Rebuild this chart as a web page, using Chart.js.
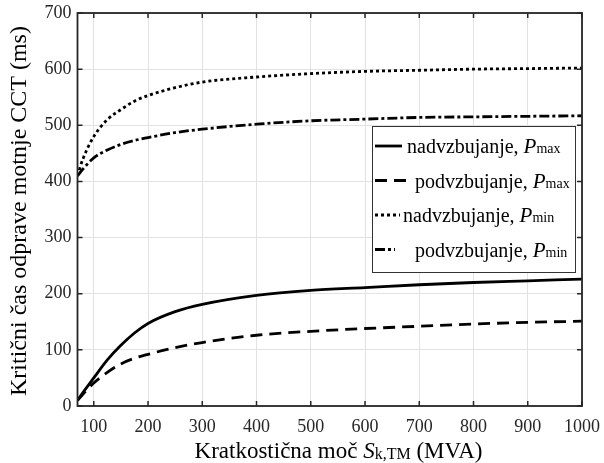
<!DOCTYPE html>
<html>
<head>
<meta charset="utf-8">
<script src="https://cdn.jsdelivr.net/npm/chart.js@4.4.1/dist/chart.umd.min.js"></script>
<style>
  html, body { margin: 0; padding: 0; background: #fff; }
  #wrap { width: 604px; height: 463px; position: relative; }
</style>
</head>
<body>
<div id="wrap"><canvas id="cctChart" width="604" height="463"></canvas></div>
<script>
// data
const xValues = [70, 80, 100, 125, 150, 175, 200, 250, 300, 400, 500, 600, 700, 800, 900, 1000];
const nadPmax = [10, 24, 50, 82, 108, 130, 147, 168, 181, 197, 206, 211, 216, 220, 223, 226];
const podPmax = [10, 21, 41, 60, 75, 85, 92, 104, 113, 126, 133, 138, 142, 146, 149, 151];
const nadPmin = [410, 440, 480, 510, 528, 543, 553, 567, 577, 586, 592, 596, 598, 600, 601, 602];
const podPmin = [410, 422, 442, 456, 466, 473, 478, 487, 493, 502, 508, 511, 514, 515, 516, 517];

const xTicks = [100, 200, 300, 400, 500, 600, 700, 800, 900, 1000];
const yTicks = [0, 100, 200, 300, 400, 500, 600, 700];

const seriesLabels = ["nadvzbujanje", "podvzbujanje", "nadvzbujanje", "podvzbujanje"];
const seriesSub = ["max", "max", "min", "min"];

const serif = "'Liberation Serif', 'Times New Roman', serif";
const axisColor = "#262626";

const dashes = [[], [12, 7], [3, 3], [10, 3, 3, 3]];

function toPoints(ys) {
  return xValues.map((x, i) => ({ x, y: ys[i] }));
}

const datasets = [nadPmax, podPmax, nadPmin, podPmin].map((ys, i) => ({
  label: seriesLabels[i] + ", P" + seriesSub[i],
  data: toPoints(ys),
  borderColor: "#000",
  borderWidth: 2.8,
  borderDash: dashes[i],
  borderCapStyle: "butt",
  pointRadius: 0,
  fill: false,
  cubicInterpolationMode: "monotone"
}));

// box, inward ticks, titles and legend like the matlab figure
const decorPlugin = {
  id: "decor",
  afterDraw(chart) {
    const ctx = chart.ctx;
    const a = chart.chartArea;
    const xs = chart.scales.x;
    const ys = chart.scales.y;
    ctx.save();

    // inward ticks
    ctx.strokeStyle = axisColor;
    ctx.lineWidth = 1.5;
    ctx.beginPath();
    xTicks.forEach(v => {
      const px = xs.getPixelForValue(v);
      ctx.moveTo(px, a.bottom); ctx.lineTo(px, a.bottom - 5);
      ctx.moveTo(px, a.top); ctx.lineTo(px, a.top + 5);
    });
    yTicks.forEach(v => {
      const py = ys.getPixelForValue(v);
      ctx.moveTo(a.left, py); ctx.lineTo(a.left + 5, py);
      ctx.moveTo(a.right, py); ctx.lineTo(a.right - 5, py);
    });
    ctx.stroke();

    // box
    ctx.lineWidth = 1.8;
    ctx.strokeRect(a.left, a.top, a.right - a.left, a.bottom - a.top);

    // y title
    ctx.fillStyle = "#000";
    ctx.font = "24px " + serif;
    ctx.textAlign = "center";
    ctx.textBaseline = "middle";
    ctx.save();
    ctx.translate(20, 211);
    ctx.rotate(-Math.PI / 2);
    ctx.fillText("Kritični čas odprave motnje CCT (ms)", 0, 0);
    ctx.restore();

    // x title with subscript
    const parts = [
      { t: "Kratkostična moč ", f: "23px " + serif, dy: 0 },
      { t: "S", f: "italic 23px " + serif, dy: 0 },
      { t: "k,TM", f: "16px " + serif, dy: 1 },
      { t: " (MVA)", f: "23px " + serif, dy: 0 }
    ];
    ctx.textAlign = "left";
    ctx.textBaseline = "alphabetic";
    let total = 0;
    parts.forEach(p => { ctx.font = p.f; total += ctx.measureText(p.t).width; });
    let cx = 338.5 - total / 2;
    parts.forEach(p => {
      ctx.font = p.f;
      ctx.fillText(p.t, cx, 458 + p.dy);
      cx += ctx.measureText(p.t).width;
    });

    // legend
    const lx = 372, ly = 126, lw = 203, lh = 146;
    ctx.fillStyle = "#fff";
    ctx.fillRect(lx, ly, lw, lh);
    ctx.strokeStyle = "#333";
    ctx.lineWidth = 1;
    ctx.strokeRect(lx + 0.5, ly + 0.5, lw, lh);

    const sampleEnd = [402, 406, 400, 395];
    const textStart = [407, 415, 403, 415];
    seriesLabels.forEach((lab, i) => {
      const rowY = ly + 20 + i * 34.5;
      ctx.strokeStyle = "#000";
      ctx.lineWidth = 2.8;
      ctx.setLineDash(dashes[i]);
      ctx.beginPath();
      ctx.moveTo(375, rowY);
      ctx.lineTo(sampleEnd[i], rowY);
      ctx.stroke();
      ctx.setLineDash([]);

      const bits = [
        { t: lab + ", ", f: "20px " + serif },
        { t: "P", f: "italic 21px " + serif },
        { t: seriesSub[i], f: "14px " + serif }
      ];
      let tx = textStart[i];
      ctx.fillStyle = "#000";
      ctx.textBaseline = "alphabetic";
      bits.forEach(b => {
        ctx.font = b.f;
        ctx.fillText(b.t, tx, rowY + 7);
        tx += ctx.measureText(b.t).width;
      });
    });

    ctx.restore();
  }
};

new Chart(document.getElementById("cctChart"), {
  type: "line",
  data: { datasets },
  options: {
    responsive: false,
    animation: false,
    layout: { padding: { left: 0, right: 22, top: 13, bottom: 0 } },
    plugins: {
      legend: { display: false },
      tooltip: { enabled: false }
    },
    scales: {
      x: {
        type: "linear",
        min: 70,
        max: 1000,
        afterFit: s => { s.height = 57; s.paddingLeft = 0; s.paddingRight = 0; },
        afterBuildTicks: s => { s.ticks = xTicks.map(v => ({ value: v })); },
        grid: { color: "#e2e2e2", lineWidth: 1, drawTicks: false },
        border: { display: false },
        ticks: {
          color: "#262626",
          padding: 10,
          maxRotation: 0,
          font: { family: serif, size: 18 },
          callback: v => String(v)
        }
      },
      y: {
        min: 0,
        max: 700,
        afterFit: s => { s.width = 77.5; s.paddingTop = 0; s.paddingBottom = 0; },
        afterBuildTicks: s => { s.ticks = yTicks.map(v => ({ value: v })); },
        grid: { color: "#e2e2e2", lineWidth: 1, drawTicks: false },
        border: { display: false },
        ticks: {
          color: "#262626",
          padding: 6,
          font: { family: serif, size: 18 },
          callback: v => String(v)
        }
      }
    }
  },
  plugins: [decorPlugin]
});
</script>
</body>
</html>
